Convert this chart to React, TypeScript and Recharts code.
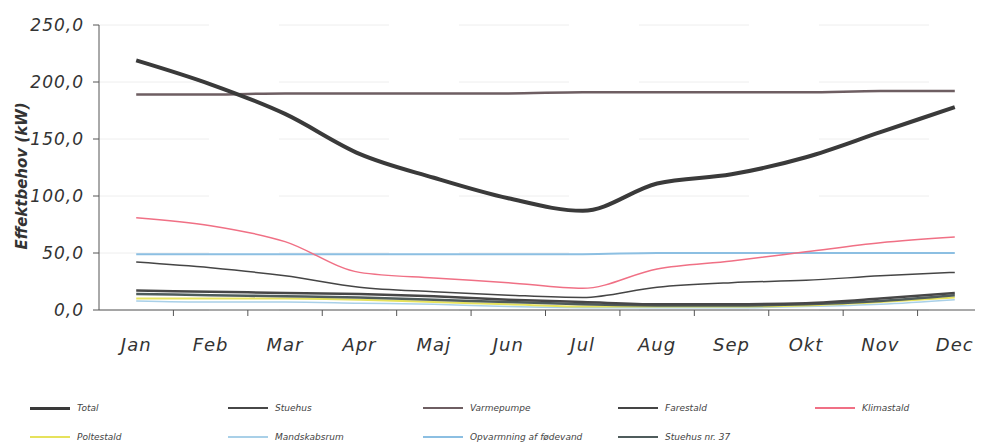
import { LineChart, Line, XAxis, YAxis, CartesianGrid } from 'recharts'

const months = ['Jan', 'Feb', 'Mar', 'Apr', 'Maj', 'Jun', 'Jul', 'Aug', 'Sep', 'Okt', 'Nov', 'Dec']
const yTicks = [0, 50, 100, 150, 200, 250]

const total = [219, 198, 172, 137, 116, 98, 87, 111, 119, 134, 156, 178]
const varmepumpe = [189, 189, 190, 190, 190, 190, 191, 191, 191, 191, 192, 192]
const klimastald = [81, 74, 60, 33, 28, 24, 19, 36, 43, 51, 59, 64]
const opvarmning = [49, 49, 49, 49, 49, 49, 49, 50, 50, 50, 50, 50]
const farestald = [42, 37, 30, 20, 16, 13, 11, 20, 24, 26, 30, 33]
const stuehus = [17, 16, 15, 14, 12, 9, 7, 5, 5, 6, 10, 15]
const stuehus37 = [14, 13, 12, 11, 9, 7, 5, 4, 4, 5, 8, 13]
const poltestald = [10, 10, 10, 9, 7, 5, 3, 3, 3, 4, 7, 11]
const mandskabsrum = [8, 7, 7, 6, 5, 3, 2, 2, 2, 3, 5, 9]

// legend order, row by row
const series = [
  { key: 'total', name: 'Total', values: total, color: '#3a3a3a', width: 4 },
  { key: 'stuehus', name: 'Stuehus', values: stuehus, color: '#474747', width: 2.5 },
  { key: 'varmepumpe', name: 'Varmepumpe', values: varmepumpe, color: '#6e5e62', width: 2.5 },
  { key: 'farestald', name: 'Farestald', values: farestald, color: '#454545', width: 1.5 },
  { key: 'klimastald', name: 'Klimastald', values: klimastald, color: '#f07085', width: 1.5 },
  { key: 'poltestald', name: 'Poltestald', values: poltestald, color: '#e6e25c', width: 2 },
  { key: 'mandskabsrum', name: 'Mandskabsrum', values: mandskabsrum, color: '#a9d0e8', width: 1.5 },
  { key: 'opvarmning', name: 'Opvarmning af fødevand', values: opvarmning, color: '#8cbfe2', width: 2 },
  { key: 'stuehus37', name: 'Stuehus nr. 37', values: stuehus37, color: '#4f5c5c', width: 2.5 },
]

// draw order: big/background lines first
const drawOrder = ['varmepumpe', 'opvarmning', 'klimastald', 'farestald', 'mandskabsrum', 'poltestald', 'stuehus37', 'stuehus', 'total']

const data = months.map((m, i) => {
  const row: Record<string, string | number> = { month: m }
  series.forEach((s) => { row[s.key] = s.values[i] })
  return row
})

const CHART_W = 1000
const CHART_H = 440
const Y_W = 91
const M_RIGHT = 16
const HALF_BAND = (CHART_W - Y_W - M_RIGHT) / months.length / 2
const FONT = '"DejaVu Sans", sans-serif'

function MonthTick({ x, y, payload }: any) {
  return (
    <g>
      <line x1={x + HALF_BAND} x2={x + HALF_BAND} y1={y - 24} y2={y - 18} stroke="#555" strokeWidth={1} />
      <text x={x} y={y + 17} textAnchor="middle" fontSize={18} fontStyle="italic" fill="#333"
        fontFamily={FONT} letterSpacing={1}>
        {payload.value}
      </text>
    </g>
  )
}

function AxisTitle() {
  return (
    <text x={14} y={168} transform="rotate(-90 14 168)" textAnchor="middle" dominantBaseline="central"
      fontSize={15} fontStyle="italic" fontWeight="bold" fill="#333" fontFamily={FONT}>
      Effektbehov (kW)
    </text>
  )
}

const legendCols = [22, 220, 415, 610, 807]
const legendRows = [400, 429]

export default function App() {
  return (
    <div style={{ position: 'relative', width: 975, height: 440, overflow: 'hidden', background: '#fff' }}>
      <LineChart width={CHART_W} height={CHART_H} data={data}
        margin={{ top: 17, right: M_RIGHT, left: 0, bottom: 0 }}>
        <CartesianGrid vertical={false} stroke="#eeeeee" strokeDasharray="110 70" />
        <XAxis dataKey="month" scale="band" height={138} tickLine={false} tickSize={5} tickMargin={19}
          axisLine={{ stroke: '#555' }} tick={<MonthTick />} interval={0} />
        <YAxis width={Y_W} domain={[0, 250]} ticks={yTicks} tickSize={6} tickMargin={9}
          axisLine={{ stroke: '#555' }} tickLine={{ stroke: '#555' }}
          tickFormatter={(v: number) => v.toFixed(1).replace('.', ',')}
          tick={{ fontSize: 17, fontStyle: 'italic', fill: '#333', fontFamily: FONT, letterSpacing: 1 }}
          label={<AxisTitle />} />
        {drawOrder.map((k) => {
          const s = series.find((x) => x.key === k)!
          return (
            <Line key={k} type="monotone" dataKey={k} name={s.name} stroke={s.color}
              strokeWidth={s.width} dot={false} isAnimationActive={false} />
          )
        })}
      </LineChart>
      {series.map((s, i) => {
        const left = legendCols[i % 5]
        const top = legendRows[Math.floor(i / 5)]
        return (
          <div key={s.key} style={{ position: 'absolute', left, top: top - 7, height: 14, display: 'flex',
            alignItems: 'center', whiteSpace: 'nowrap' }}>
            <div style={{ width: 40, height: Math.max(1.5, s.width * 0.75), background: s.color, marginRight: 7 }} />
            <span style={{ fontFamily: FONT, fontSize: 9, fontStyle: 'italic', color: '#444' }}>{s.name}</span>
          </div>
        )
      })}
    </div>
  )
}
